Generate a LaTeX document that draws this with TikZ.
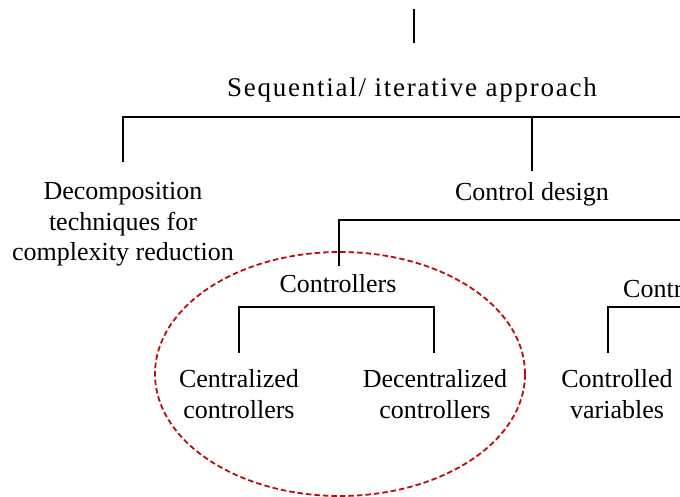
\documentclass[tikz,border=0pt]{standalone}
\usepackage{fontspec}
\setmainfont{Liberation Serif}
\definecolor{ringred}{RGB}{190,10,10}
\begin{document}
\begin{tikzpicture}[x=1pt,y=-1pt,
  lbl/.style={inner sep=0pt, font=\fontsize{26}{31}\selectfont, align=center, anchor=base},
  branch/.style={line width=1.7pt, line cap=rect},
  ring/.style={draw=ringred, line width=1.8pt, dash pattern=on 5.5pt off 3pt}]
\useasboundingbox (0,0) rectangle (680,497);
\clip (0,0) rectangle (680,497);

% labels (multi-line labels sit on the baseline of their last line)
\node[lbl, font=\fontsize{27}{31}\selectfont\addfontfeature{LetterSpace=6.5}] (seq) at (412,97) {Sequential/ iterative\ approach};
\node[lbl] (decomp) at (123,261) {Decomposition\\techniques for\\complexity reduction};
\node[lbl] (design) at (532,201) {Control design};
\node[lbl] (ctrls) at (338,292) {Controllers};
\node[lbl, anchor=base west] (contr) at (623,297) {Contr};
\node[lbl] (central) at (239,418) {Centralized\\controllers};
\node[lbl] (decentral) at (435,418) {Decentralized\\controllers};
\node[lbl] (cvars) at (617,418) {Controlled\\variables};

% levels of the branch lines
\coordinate (top0) at (414,10);
\coordinate (top1) at (414,42);
\coordinate (bus1) at (123,117);
\coordinate (bus1end) at (690,117);
\coordinate (bus2) at (339,220);
\coordinate (bus2end) at (690,220);
\coordinate (bus3) at (240,307);
\coordinate (bus3end) at (434,307);
\coordinate (bus4) at (608,307);
\coordinate (bus4end) at (690,307);
\coordinate (lvA) at (0,161);
\coordinate (lvB) at (0,170);
\coordinate (lvC) at (0,265);
\coordinate (lvD) at (0,352);

% branches
\draw[branch] (top0) -- (top1);
\draw[branch] (bus1end) -| (decomp.north |- lvA);
\draw[branch] (design.north |- bus1) -- (design.north |- lvB);
\draw[branch] (bus2end) -| (bus2 |- lvC);
\draw[branch] (central.north |- lvD) |- (bus3end) -- (bus3end |- lvD);
\draw[branch] (bus4end) -| (bus4 |- lvD);

% highlight around the controller types
\draw[ring] (340,374) ellipse [x radius=185pt, y radius=122pt];
\end{tikzpicture}
\end{document}
